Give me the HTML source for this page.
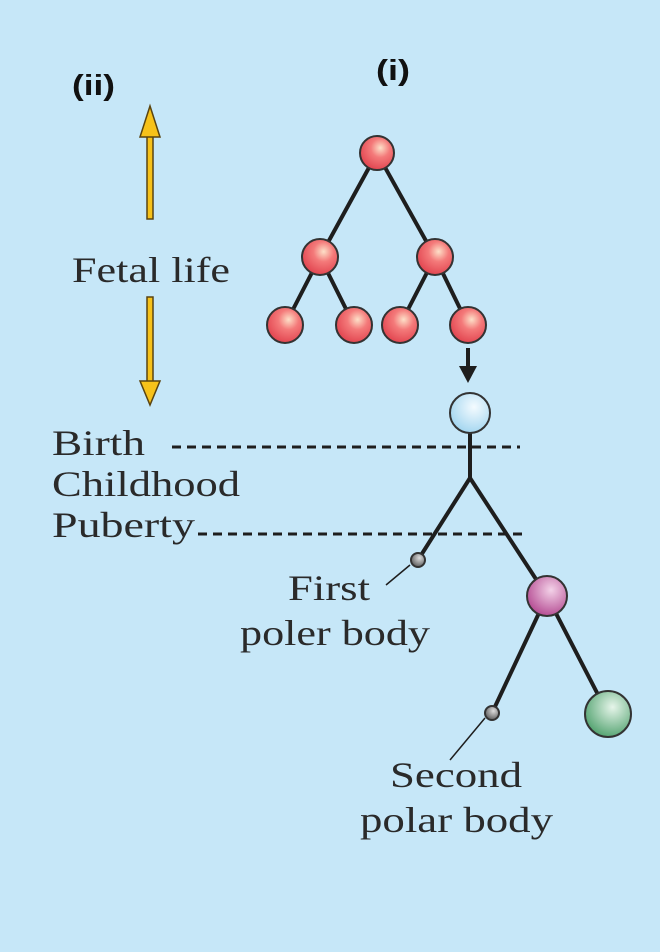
<!DOCTYPE html>
<html><head><style>
html,body{margin:0;padding:0;background:#c6e7f8;}
svg{display:block;}
.s{font-family:"Liberation Serif",serif;font-size:36px;fill:#2a2a2a;}
.b{font-family:"Liberation Sans",sans-serif;font-weight:bold;font-size:29px;fill:#111;}
</style></head><body>
<svg width="660" height="952" viewBox="0 0 660 952" xmlns="http://www.w3.org/2000/svg">
<defs>
<radialGradient id="r" cx="0.6" cy="0.35" r="0.7"><stop offset="0" stop-color="#fde0c8"/><stop offset="0.4" stop-color="#f47a7a"/><stop offset="1" stop-color="#e0404c"/></radialGradient>
<radialGradient id="bl" cx="0.6" cy="0.35" r="0.7"><stop offset="0" stop-color="#f4fbff"/><stop offset="1" stop-color="#9fd4ef"/></radialGradient>
<radialGradient id="p" cx="0.6" cy="0.35" r="0.7"><stop offset="0" stop-color="#f3d2e8"/><stop offset="1" stop-color="#b2468f"/></radialGradient>
<radialGradient id="g" cx="0.6" cy="0.35" r="0.7"><stop offset="0" stop-color="#e6f5ea"/><stop offset="1" stop-color="#4ea06c"/></radialGradient>
<radialGradient id="k" cx="0.6" cy="0.35" r="0.7"><stop offset="0" stop-color="#dddddd"/><stop offset="1" stop-color="#555"/></radialGradient>
</defs>
<rect width="660" height="952" fill="#c6e7f8"/>
<g stroke="#1e1e1e" stroke-width="4" fill="none">
<line x1="377" y1="153" x2="320" y2="257"/><line x1="377" y1="153" x2="435" y2="257"/>
<line x1="320" y1="257" x2="285" y2="325"/><line x1="320" y1="257" x2="354" y2="325"/>
<line x1="435" y1="257" x2="400" y2="325"/><line x1="435" y1="257" x2="468" y2="325"/>
<line x1="470" y1="433" x2="470" y2="478"/>
<line x1="470" y1="478" x2="418" y2="560"/><line x1="470" y1="478" x2="547" y2="596"/>
<line x1="547" y1="596" x2="492" y2="713"/><line x1="547" y1="596" x2="608" y2="714"/>
<line x1="468" y1="348" x2="468" y2="368"/>
</g>
<polygon points="459,366 477,366 468,383" fill="#1e1e1e"/>
<g stroke="#1e1e1e" stroke-width="1.5" fill="none">
<line x1="386" y1="585" x2="410" y2="565"/><line x1="450" y1="760" x2="485" y2="718"/>
</g>
<g stroke="#1e1e1e" stroke-width="3" stroke-dasharray="9,6">
<line x1="172" y1="447" x2="520" y2="447"/><line x1="198" y1="534" x2="524" y2="534"/>
</g>
<g stroke="#333" stroke-width="2">
<circle cx="377" cy="153" r="17" fill="url(#r)"/>
<circle cx="320" cy="257" r="18" fill="url(#r)"/><circle cx="435" cy="257" r="18" fill="url(#r)"/>
<circle cx="285" cy="325" r="18" fill="url(#r)"/><circle cx="354" cy="325" r="18" fill="url(#r)"/>
<circle cx="400" cy="325" r="18" fill="url(#r)"/><circle cx="468" cy="325" r="18" fill="url(#r)"/>
<circle cx="470" cy="413" r="20" fill="url(#bl)"/>
<circle cx="547" cy="596" r="20" fill="url(#p)"/>
<circle cx="608" cy="714" r="23" fill="url(#g)"/>
<circle cx="418" cy="560" r="7" fill="url(#k)"/>
<circle cx="492" cy="713" r="7" fill="url(#k)"/>
</g>
<g fill="#f7c21a" stroke="#5a4410" stroke-width="1.5">
<rect x="147" y="136" width="6" height="83"/>
<polygon points="140,137 160,137 150,106"/>
<rect x="147" y="297" width="6" height="85"/>
<polygon points="140,381 160,381 150,405"/>
</g>
<text class="b" x="72" y="95" textLength="43" lengthAdjust="spacingAndGlyphs">(ii)</text>
<text class="b" x="376" y="80" textLength="34" lengthAdjust="spacingAndGlyphs">(i)</text>
<text class="s" x="72" y="282" textLength="158" lengthAdjust="spacingAndGlyphs">Fetal life</text>
<text class="s" x="52" y="455" textLength="93" lengthAdjust="spacingAndGlyphs">Birth</text>
<text class="s" x="52" y="496" textLength="188" lengthAdjust="spacingAndGlyphs">Childhood</text>
<text class="s" x="52" y="537" textLength="143" lengthAdjust="spacingAndGlyphs">Puberty</text>
<text class="s" x="288" y="600" textLength="82" lengthAdjust="spacingAndGlyphs">First</text>
<text class="s" x="240" y="645" textLength="190" lengthAdjust="spacingAndGlyphs">poler body</text>
<text class="s" x="390" y="787" textLength="132" lengthAdjust="spacingAndGlyphs">Second</text>
<text class="s" x="360" y="832" textLength="193" lengthAdjust="spacingAndGlyphs">polar body</text>
</svg>
</body></html>
